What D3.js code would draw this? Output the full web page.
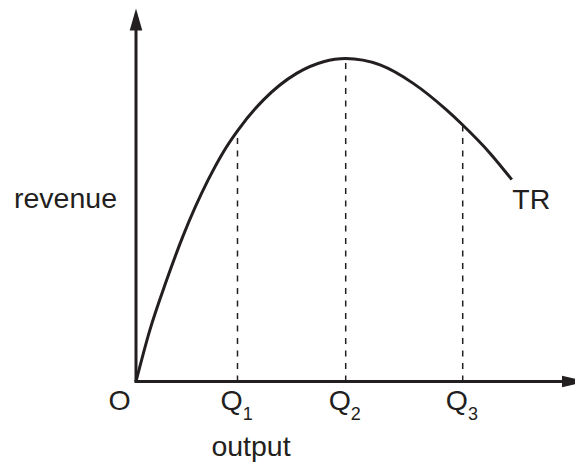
<!DOCTYPE html>
<html>
<head>
<meta charset="utf-8">
<script src="https://cdn.jsdelivr.net/npm/d3@7"></script>
<style>
  body { margin: 0; background: #fff; }
  text { font-family: "Liberation Sans", Arial, sans-serif; fill: #231f20; }
</style>
</head>
<body>
<svg id="chart"></svg>
<script>
// total revenue curve (output units, revenue units)
var output  = [0, 0.33, 0.72, 1.12, 1.72, 2.08, 2.42, 3.04, 3.83, 4.47, 5.0, 5.82, 6.61, 7.41, 7.79, 8.44, 8.96];
var revenue = [0, 1.59, 3.10, 4.50, 6.24, 7.10, 7.76, 8.72, 9.54, 9.90, 10.0, 9.80, 9.23, 8.40, 7.94, 7.07, 6.25];

// marked output levels and their labels
var qValues = [2.42, 5.0, 7.79];
var qLabels = ["1", "2", "3"];

var width = 575, height = 470;
var ink = "#231f20";
var fontSize = 28.5;

var svg = d3.select("#chart")
    .attr("width", width)
    .attr("height", height);

// scales
var x = d3.scaleLinear().domain([0, 10]).range([136, 555.4]);
var y = d3.scaleLinear().domain([0, 10]).range([381.5, 58.5]);

var xEnd = 10.73;  // arrow tip of output axis
var yEnd = 11.55;  // arrow tip of revenue axis

// dashed drop lines
var tr = d3.scaleLinear().domain(output).range(revenue);
svg.selectAll("line.drop")
    .data(qValues)
    .enter()
    .append("line")
    .attr("class", "drop")
    .attr("x1", function(d) { return x(d); })
    .attr("x2", function(d) { return x(d); })
    .attr("y1", y(0))
    .attr("y2", function(d) { return y(tr(d)); })
    .attr("stroke", ink)
    .attr("stroke-width", 1.5)
    .attr("stroke-dasharray", "6,6.5");

// axes
svg.append("line")
    .attr("x1", x(0)).attr("y1", y(0))
    .attr("x2", x(0)).attr("y2", y(yEnd) + 18)
    .attr("stroke", ink).attr("stroke-width", 3);
svg.append("line")
    .attr("x1", x(0) - 1.5).attr("y1", y(0))
    .attr("x2", x(xEnd) - 18).attr("y2", y(0))
    .attr("stroke", ink).attr("stroke-width", 3);

// arrow heads
svg.append("path")
    .attr("d", "M" + x(0) + "," + y(yEnd) +
               "L" + (x(0) + 6.3) + "," + (y(yEnd) + 22) +
               "L" + (x(0) - 6.3) + "," + (y(yEnd) + 22) + "Z")
    .attr("fill", ink);
svg.append("path")
    .attr("d", "M" + x(xEnd) + "," + y(0) +
               "L" + (x(xEnd) - 24) + "," + (y(0) - 5.8) +
               "L" + (x(xEnd) - 24) + "," + (y(0) + 5.8) + "Z")
    .attr("fill", ink);

// TR curve
var line = d3.line()
    .x(function(d) { return x(d[0]); })
    .y(function(d) { return y(d[1]); })
    .curve(d3.curveMonotoneX);

svg.append("path")
    .datum(d3.zip(output, revenue))
    .attr("d", line)
    .attr("fill", "none")
    .attr("stroke", ink)
    .attr("stroke-width", 3);

// labels
svg.append("text")
    .attr("x", 14).attr("y", 208)
    .attr("font-size", fontSize)
    .text("revenue");

svg.append("text")
    .attr("x", x(output[output.length - 1]) + 0.5).attr("y", 209)
    .attr("font-size", fontSize)
    .text("TR");

svg.append("text")
    .attr("x", x(0) - 16.5).attr("y", 410)
    .attr("text-anchor", "middle")
    .attr("font-size", fontSize)
    .text("O");

var q = svg.selectAll("text.q")
    .data(qValues)
    .enter()
    .append("text")
    .attr("class", "q")
    .attr("x", function(d) { return x(d) - 17; })
    .attr("y", 410)
    .attr("font-size", fontSize);
q.append("tspan").text("Q");
q.append("tspan")
    .attr("dy", 10)
    .attr("font-size", 18)
    .text(function(d, i) { return qLabels[i]; });

svg.append("text")
    .attr("x", 251).attr("y", 456)
    .attr("text-anchor", "middle")
    .attr("font-size", fontSize)
    .text("output");
</script>
</body>
</html>
